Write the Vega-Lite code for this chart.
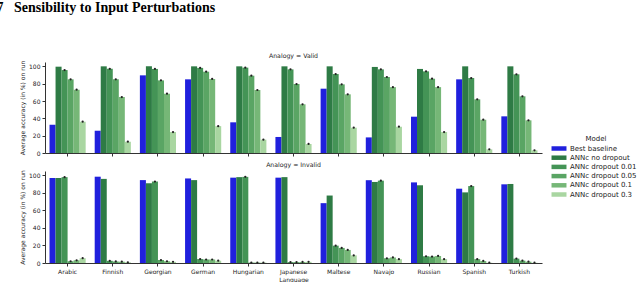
{
  "$schema": "https://vega.github.io/schema/vega-lite/v6.json",
  "padding": {"left": -4, "top": 0, "right": 0, "bottom": 0},
  "title": {"text": "7\u00a0\u00a0\u00a0Sensibility to Input Perturbations", "anchor": "start", "frame": "bounds", "font": "Liberation Serif", "fontSize": 14, "fontWeight": "bold", "color": "#000000", "dx": -23, "offset": 38},
  "config": {
    "font": "DejaVu Sans",
    "view": {"stroke": null},
    "axis": {"labelFontSize": 6, "titleFontSize": 6, "titleFontWeight": "normal", "domainColor": "#333333", "tickColor": "#333333", "labelColor": "#222222", "titleColor": "#222222", "grid": false, "tickSize": 3, "labelPadding": 2},
    "title": {"fontSize": 6.2, "fontWeight": "normal", "color": "#222222", "offset": 1},
    "legend": {"padding": 0}
  },
  "data": {"values": [
    {"Analogy": "Valid", "Language": "Arabic", "Model": "Best baseline", "acc": 32.6},
    {"Analogy": "Valid", "Language": "Arabic", "Model": "ANNc no dropout", "acc": 99.6},
    {"Analogy": "Valid", "Language": "Arabic", "Model": "ANNc dropout 0.01", "acc": 95.7},
    {"Analogy": "Valid", "Language": "Arabic", "Model": "ANNc dropout 0.05", "acc": 85},
    {"Analogy": "Valid", "Language": "Arabic", "Model": "ANNc dropout 0.1", "acc": 73},
    {"Analogy": "Valid", "Language": "Arabic", "Model": "ANNc dropout 0.3", "acc": 36.1},
    {"Analogy": "Valid", "Language": "Finnish", "Model": "Best baseline", "acc": 25.7},
    {"Analogy": "Valid", "Language": "Finnish", "Model": "ANNc no dropout", "acc": 100},
    {"Analogy": "Valid", "Language": "Finnish", "Model": "ANNc dropout 0.01", "acc": 97.2},
    {"Analogy": "Valid", "Language": "Finnish", "Model": "ANNc dropout 0.05", "acc": 85},
    {"Analogy": "Valid", "Language": "Finnish", "Model": "ANNc dropout 0.1", "acc": 64.6},
    {"Analogy": "Valid", "Language": "Finnish", "Model": "ANNc dropout 0.3", "acc": 13},
    {"Analogy": "Valid", "Language": "Georgian", "Model": "Best baseline", "acc": 89.6},
    {"Analogy": "Valid", "Language": "Georgian", "Model": "ANNc no dropout", "acc": 100},
    {"Analogy": "Valid", "Language": "Georgian", "Model": "ANNc dropout 0.01", "acc": 97},
    {"Analogy": "Valid", "Language": "Georgian", "Model": "ANNc dropout 0.05", "acc": 83.8},
    {"Analogy": "Valid", "Language": "Georgian", "Model": "ANNc dropout 0.1", "acc": 68.4},
    {"Analogy": "Valid", "Language": "Georgian", "Model": "ANNc dropout 0.3", "acc": 24.2},
    {"Analogy": "Valid", "Language": "German", "Model": "Best baseline", "acc": 85},
    {"Analogy": "Valid", "Language": "German", "Model": "ANNc no dropout", "acc": 100},
    {"Analogy": "Valid", "Language": "German", "Model": "ANNc dropout 0.01", "acc": 98.2},
    {"Analogy": "Valid", "Language": "German", "Model": "ANNc dropout 0.05", "acc": 93.8},
    {"Analogy": "Valid", "Language": "German", "Model": "ANNc dropout 0.1", "acc": 85.4},
    {"Analogy": "Valid", "Language": "German", "Model": "ANNc dropout 0.3", "acc": 31},
    {"Analogy": "Valid", "Language": "Hungarian", "Model": "Best baseline", "acc": 35.4},
    {"Analogy": "Valid", "Language": "Hungarian", "Model": "ANNc no dropout", "acc": 100},
    {"Analogy": "Valid", "Language": "Hungarian", "Model": "ANNc dropout 0.01", "acc": 98.5},
    {"Analogy": "Valid", "Language": "Hungarian", "Model": "ANNc dropout 0.05", "acc": 89.2},
    {"Analogy": "Valid", "Language": "Hungarian", "Model": "ANNc dropout 0.1", "acc": 72.7},
    {"Analogy": "Valid", "Language": "Hungarian", "Model": "ANNc dropout 0.3", "acc": 15.4},
    {"Analogy": "Valid", "Language": "Japanese", "Model": "Best baseline", "acc": 18.5},
    {"Analogy": "Valid", "Language": "Japanese", "Model": "ANNc no dropout", "acc": 100},
    {"Analogy": "Valid", "Language": "Japanese", "Model": "ANNc dropout 0.01", "acc": 96.5},
    {"Analogy": "Valid", "Language": "Japanese", "Model": "ANNc dropout 0.05", "acc": 79.6},
    {"Analogy": "Valid", "Language": "Japanese", "Model": "ANNc dropout 0.1", "acc": 56.2},
    {"Analogy": "Valid", "Language": "Japanese", "Model": "ANNc dropout 0.3", "acc": 10.4},
    {"Analogy": "Valid", "Language": "Maltese", "Model": "Best baseline", "acc": 74.2},
    {"Analogy": "Valid", "Language": "Maltese", "Model": "ANNc no dropout", "acc": 100},
    {"Analogy": "Valid", "Language": "Maltese", "Model": "ANNc dropout 0.01", "acc": 91.1},
    {"Analogy": "Valid", "Language": "Maltese", "Model": "ANNc dropout 0.05", "acc": 79.2},
    {"Analogy": "Valid", "Language": "Maltese", "Model": "ANNc dropout 0.1", "acc": 67.7},
    {"Analogy": "Valid", "Language": "Maltese", "Model": "ANNc dropout 0.3", "acc": 29.2},
    {"Analogy": "Valid", "Language": "Navajo", "Model": "Best baseline", "acc": 18},
    {"Analogy": "Valid", "Language": "Navajo", "Model": "ANNc no dropout", "acc": 99.3},
    {"Analogy": "Valid", "Language": "Navajo", "Model": "ANNc dropout 0.01", "acc": 96.5},
    {"Analogy": "Valid", "Language": "Navajo", "Model": "ANNc dropout 0.05", "acc": 87.7},
    {"Analogy": "Valid", "Language": "Navajo", "Model": "ANNc dropout 0.1", "acc": 76},
    {"Analogy": "Valid", "Language": "Navajo", "Model": "ANNc dropout 0.3", "acc": 30.3},
    {"Analogy": "Valid", "Language": "Russian", "Model": "Best baseline", "acc": 41.9},
    {"Analogy": "Valid", "Language": "Russian", "Model": "ANNc no dropout", "acc": 97},
    {"Analogy": "Valid", "Language": "Russian", "Model": "ANNc dropout 0.01", "acc": 94.2},
    {"Analogy": "Valid", "Language": "Russian", "Model": "ANNc dropout 0.05", "acc": 85.7},
    {"Analogy": "Valid", "Language": "Russian", "Model": "ANNc dropout 0.1", "acc": 76},
    {"Analogy": "Valid", "Language": "Russian", "Model": "ANNc dropout 0.3", "acc": 24.2},
    {"Analogy": "Valid", "Language": "Spanish", "Model": "Best baseline", "acc": 85},
    {"Analogy": "Valid", "Language": "Spanish", "Model": "ANNc no dropout", "acc": 100},
    {"Analogy": "Valid", "Language": "Spanish", "Model": "ANNc dropout 0.01", "acc": 86.5},
    {"Analogy": "Valid", "Language": "Spanish", "Model": "ANNc dropout 0.05", "acc": 61.9},
    {"Analogy": "Valid", "Language": "Spanish", "Model": "ANNc dropout 0.1", "acc": 38.4},
    {"Analogy": "Valid", "Language": "Spanish", "Model": "ANNc dropout 0.3", "acc": 4.2},
    {"Analogy": "Valid", "Language": "Turkish", "Model": "Best baseline", "acc": 42.3},
    {"Analogy": "Valid", "Language": "Turkish", "Model": "ANNc no dropout", "acc": 100},
    {"Analogy": "Valid", "Language": "Turkish", "Model": "ANNc dropout 0.01", "acc": 90.8},
    {"Analogy": "Valid", "Language": "Turkish", "Model": "ANNc dropout 0.05", "acc": 65.4},
    {"Analogy": "Valid", "Language": "Turkish", "Model": "ANNc dropout 0.1", "acc": 37.7},
    {"Analogy": "Valid", "Language": "Turkish", "Model": "ANNc dropout 0.3", "acc": 3.1},
    {"Analogy": "Invalid", "Language": "Arabic", "Model": "Best baseline", "acc": 97},
    {"Analogy": "Invalid", "Language": "Arabic", "Model": "ANNc no dropout", "acc": 97},
    {"Analogy": "Invalid", "Language": "Arabic", "Model": "ANNc dropout 0.01", "acc": 98},
    {"Analogy": "Invalid", "Language": "Arabic", "Model": "ANNc dropout 0.05", "acc": 2},
    {"Analogy": "Invalid", "Language": "Arabic", "Model": "ANNc dropout 0.1", "acc": 3},
    {"Analogy": "Invalid", "Language": "Arabic", "Model": "ANNc dropout 0.3", "acc": 5.5},
    {"Analogy": "Invalid", "Language": "Finnish", "Model": "Best baseline", "acc": 98.5},
    {"Analogy": "Invalid", "Language": "Finnish", "Model": "ANNc no dropout", "acc": 96},
    {"Analogy": "Invalid", "Language": "Finnish", "Model": "ANNc dropout 0.01", "acc": 2.5},
    {"Analogy": "Invalid", "Language": "Finnish", "Model": "ANNc dropout 0.05", "acc": 1.8},
    {"Analogy": "Invalid", "Language": "Finnish", "Model": "ANNc dropout 0.1", "acc": 1.5},
    {"Analogy": "Invalid", "Language": "Finnish", "Model": "ANNc dropout 0.3", "acc": 0.8},
    {"Analogy": "Invalid", "Language": "Georgian", "Model": "Best baseline", "acc": 94.6},
    {"Analogy": "Invalid", "Language": "Georgian", "Model": "ANNc no dropout", "acc": 91},
    {"Analogy": "Invalid", "Language": "Georgian", "Model": "ANNc dropout 0.01", "acc": 93},
    {"Analogy": "Invalid", "Language": "Georgian", "Model": "ANNc dropout 0.05", "acc": 3.4},
    {"Analogy": "Invalid", "Language": "Georgian", "Model": "ANNc dropout 0.1", "acc": 2},
    {"Analogy": "Invalid", "Language": "Georgian", "Model": "ANNc dropout 0.3", "acc": 1.3},
    {"Analogy": "Invalid", "Language": "German", "Model": "Best baseline", "acc": 96.5},
    {"Analogy": "Invalid", "Language": "German", "Model": "ANNc no dropout", "acc": 94.6},
    {"Analogy": "Invalid", "Language": "German", "Model": "ANNc dropout 0.01", "acc": 4.5},
    {"Analogy": "Invalid", "Language": "German", "Model": "ANNc dropout 0.05", "acc": 4},
    {"Analogy": "Invalid", "Language": "German", "Model": "ANNc dropout 0.1", "acc": 4},
    {"Analogy": "Invalid", "Language": "German", "Model": "ANNc dropout 0.3", "acc": 2.6},
    {"Analogy": "Invalid", "Language": "Hungarian", "Model": "Best baseline", "acc": 97.4},
    {"Analogy": "Invalid", "Language": "Hungarian", "Model": "ANNc no dropout", "acc": 98},
    {"Analogy": "Invalid", "Language": "Hungarian", "Model": "ANNc dropout 0.01", "acc": 98.3},
    {"Analogy": "Invalid", "Language": "Hungarian", "Model": "ANNc dropout 0.05", "acc": 0.5},
    {"Analogy": "Invalid", "Language": "Hungarian", "Model": "ANNc dropout 0.1", "acc": 0.5},
    {"Analogy": "Invalid", "Language": "Hungarian", "Model": "ANNc dropout 0.3", "acc": 0.5},
    {"Analogy": "Invalid", "Language": "Japanese", "Model": "Best baseline", "acc": 97.4},
    {"Analogy": "Invalid", "Language": "Japanese", "Model": "ANNc no dropout", "acc": 98},
    {"Analogy": "Invalid", "Language": "Japanese", "Model": "ANNc dropout 0.01", "acc": 1},
    {"Analogy": "Invalid", "Language": "Japanese", "Model": "ANNc dropout 0.05", "acc": 1},
    {"Analogy": "Invalid", "Language": "Japanese", "Model": "ANNc dropout 0.1", "acc": 1.2},
    {"Analogy": "Invalid", "Language": "Japanese", "Model": "ANNc dropout 0.3", "acc": 1.3},
    {"Analogy": "Invalid", "Language": "Maltese", "Model": "Best baseline", "acc": 68.3},
    {"Analogy": "Invalid", "Language": "Maltese", "Model": "ANNc no dropout", "acc": 77},
    {"Analogy": "Invalid", "Language": "Maltese", "Model": "ANNc dropout 0.01", "acc": 19.8},
    {"Analogy": "Invalid", "Language": "Maltese", "Model": "ANNc dropout 0.05", "acc": 17.2},
    {"Analogy": "Invalid", "Language": "Maltese", "Model": "ANNc dropout 0.1", "acc": 14.9},
    {"Analogy": "Invalid", "Language": "Maltese", "Model": "ANNc dropout 0.3", "acc": 8.7},
    {"Analogy": "Invalid", "Language": "Navajo", "Model": "Best baseline", "acc": 94.5},
    {"Analogy": "Invalid", "Language": "Navajo", "Model": "ANNc no dropout", "acc": 92.5},
    {"Analogy": "Invalid", "Language": "Navajo", "Model": "ANNc dropout 0.01", "acc": 94},
    {"Analogy": "Invalid", "Language": "Navajo", "Model": "ANNc dropout 0.05", "acc": 5.4},
    {"Analogy": "Invalid", "Language": "Navajo", "Model": "ANNc dropout 0.1", "acc": 6.3},
    {"Analogy": "Invalid", "Language": "Navajo", "Model": "ANNc dropout 0.3", "acc": 4.4},
    {"Analogy": "Invalid", "Language": "Russian", "Model": "Best baseline", "acc": 92},
    {"Analogy": "Invalid", "Language": "Russian", "Model": "ANNc no dropout", "acc": 88.7},
    {"Analogy": "Invalid", "Language": "Russian", "Model": "ANNc dropout 0.01", "acc": 7.7},
    {"Analogy": "Invalid", "Language": "Russian", "Model": "ANNc dropout 0.05", "acc": 7.3},
    {"Analogy": "Invalid", "Language": "Russian", "Model": "ANNc dropout 0.1", "acc": 8},
    {"Analogy": "Invalid", "Language": "Russian", "Model": "ANNc dropout 0.3", "acc": 4.4},
    {"Analogy": "Invalid", "Language": "Spanish", "Model": "Best baseline", "acc": 84.8},
    {"Analogy": "Invalid", "Language": "Spanish", "Model": "ANNc no dropout", "acc": 80.6},
    {"Analogy": "Invalid", "Language": "Spanish", "Model": "ANNc dropout 0.01", "acc": 87.8},
    {"Analogy": "Invalid", "Language": "Spanish", "Model": "ANNc dropout 0.05", "acc": 4.4},
    {"Analogy": "Invalid", "Language": "Spanish", "Model": "ANNc dropout 0.1", "acc": 2.3},
    {"Analogy": "Invalid", "Language": "Spanish", "Model": "ANNc dropout 0.3", "acc": 0.3},
    {"Analogy": "Invalid", "Language": "Turkish", "Model": "Best baseline", "acc": 89.8},
    {"Analogy": "Invalid", "Language": "Turkish", "Model": "ANNc no dropout", "acc": 90.2},
    {"Analogy": "Invalid", "Language": "Turkish", "Model": "ANNc dropout 0.01", "acc": 5},
    {"Analogy": "Invalid", "Language": "Turkish", "Model": "ANNc dropout 0.05", "acc": 2.7},
    {"Analogy": "Invalid", "Language": "Turkish", "Model": "ANNc dropout 0.1", "acc": 1.5},
    {"Analogy": "Invalid", "Language": "Turkish", "Model": "ANNc dropout 0.3", "acc": 0.3}
  ]},
  "spacing": 5,
  "resolve": {"scale": {"color": "shared"}},
  "vconcat": [
    {
      "title": {"text": "Analogy = Valid"},
      "width": 497,
      "height": 91,
      "transform": [{"filter": "datum.Analogy === 'Valid'"}],
      "encoding": {
        "x": {"field": "Language", "type": "nominal", "scale": {"paddingInner": 0.2, "paddingOuter": 0.1}, "axis": {"labels": false, "title": null}},
        "xOffset": {"field": "Model", "type": "nominal", "scale": {"domain": ["Best baseline", "ANNc no dropout", "ANNc dropout 0.01", "ANNc dropout 0.05", "ANNc dropout 0.1", "ANNc dropout 0.3"]}},
        "y": {"field": "acc", "type": "quantitative", "scale": {"domain": [0, 105], "nice": false}, "axis": {"values": [0, 20, 40, 60, 80, 100], "title": "Average accuracy (in %) on run", "titlePadding": 3}}
      },
      "layer": [
        {"mark": {"type": "bar"}, "encoding": {"color": {"field": "Model", "type": "nominal", "scale": {"domain": ["Best baseline", "ANNc no dropout", "ANNc dropout 0.01", "ANNc dropout 0.05", "ANNc dropout 0.1", "ANNc dropout 0.3"], "range": ["#2020dd", "#2e7b45", "#449456", "#5aa564", "#76b777", "#a9d6a1"]}, "legend": {"title": "Model", "orient": "none", "legendX": 510, "legendY": 73, "titleAnchor": "middle", "titleFontSize": 7, "titleFontWeight": "normal", "titleColor": "#222222", "titlePadding": 2.5, "labelFontSize": 7, "labelColor": "#222222", "symbolType": "M-2,-0.6H2V0.6H-2Z", "symbolSize": 56, "symbolStrokeWidth": 0, "rowPadding": 2.2, "labelOffset": 7}}}},
        {"transform": [{"filter": "datum.Model !== 'Best baseline' && datum.Model !== 'ANNc no dropout'"}], "mark": {"type": "point", "filled": true, "size": 5, "color": "#222222", "opacity": 1}}
      ]
    },
    {
      "title": {"text": "Analogy = Invalid"},
      "width": 497,
      "height": 92,
      "transform": [{"filter": "datum.Analogy === 'Invalid'"}],
      "encoding": {
        "x": {"field": "Language", "type": "nominal", "scale": {"paddingInner": 0.2, "paddingOuter": 0.1}, "axis": {"labelAngle": 0, "title": "Language", "titlePadding": 2}},
        "xOffset": {"field": "Model", "type": "nominal", "scale": {"domain": ["Best baseline", "ANNc no dropout", "ANNc dropout 0.01", "ANNc dropout 0.05", "ANNc dropout 0.1", "ANNc dropout 0.3"]}},
        "y": {"field": "acc", "type": "quantitative", "scale": {"domain": [0, 105], "nice": false}, "axis": {"values": [0, 20, 40, 60, 80, 100], "title": "Average accuracy (in %) on run", "titlePadding": 3}}
      },
      "layer": [
        {"mark": {"type": "bar"}, "encoding": {"color": {"field": "Model", "type": "nominal"}}},
        {"transform": [{"filter": "datum.Model !== 'Best baseline' && datum.Model !== 'ANNc no dropout'"}], "mark": {"type": "point", "filled": true, "size": 5, "color": "#222222", "opacity": 1}}
      ]
    }
  ]
}
